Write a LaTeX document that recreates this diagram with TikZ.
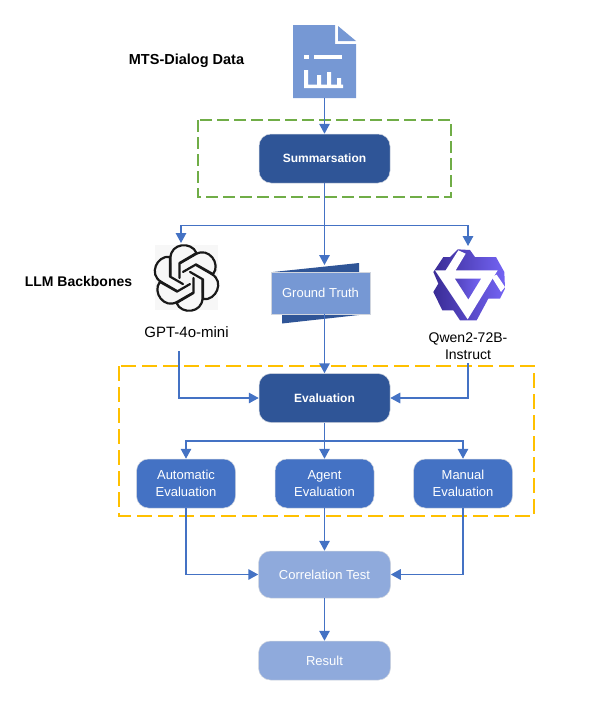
\documentclass[tikz,border=0pt]{standalone}
\usepackage{fontspec}
\setmainfont{Liberation Sans}
\usetikzlibrary{arrows.meta,positioning}
\definecolor{darkBlue}{HTML}{2F5597}
\definecolor{midBlue}{HTML}{4472C4}
\definecolor{softBlue}{HTML}{7698D4}
\definecolor{paleBlue}{HTML}{8FAADC}
\definecolor{edgeGray}{HTML}{D0D5DE}
\definecolor{groupGreen}{HTML}{70AD47}
\definecolor{groupOrange}{HTML}{FFC000}
\definecolor{qwenDark}{HTML}{3A2C96}
\definecolor{qwenLight}{HTML}{7464F4}
\newcommand{\labelFont}{\fontsize{13}{16.5}\selectfont}
\newcommand{\gptStrand}{%%
  \draw[strandStyle] (-16,2) -- (-16,20) .. controls (-16,35) and (5,37) .. (10,25)
    -- (-7,15) -- (-7,0);
}
\begin{document}
\begin{tikzpicture}[%%
  x=1pt,y=-1pt,%%
  arrowStyle/.style={-{Triangle[width=10.5pt,length=10pt]},midBlue,line width=1.5pt},%%
  lineStyle/.style={-,midBlue,line width=1.5pt},%%
  boxStyle/.style={rectangle,rounded corners=12pt,draw=edgeGray,line width=0.5pt,text=white,align=center,font=\labelFont},%%
  mainBoxStyle/.style={boxStyle,fill=darkBlue,minimum width=131pt,minimum height=49pt,font=\fontsize{12}{15}\selectfont\bfseries},%%
  evalBoxStyle/.style={boxStyle,fill=midBlue,minimum width=99pt,minimum height=49pt},%%
  lightBoxStyle/.style={boxStyle,fill=paleBlue,minimum width=132pt},%%
  groupStyle/.style={draw=#1,line width=2pt},%%
  titleStyle/.style={font=\fontsize{14}{17}\selectfont\bfseries,black},%%
  captionStyle/.style={font=\fontsize{14}{17}\selectfont,black,align=center},%%
  strandStyle/.style={draw=black!90,line width=2.2pt,line join=round,line cap=round}
]
\useasboundingbox (0,0) rectangle (614,723);
%%
\pgfmathsetmacro{\xLeft}{186}
\pgfmathsetmacro{\xMid}{324.5}
\pgfmathsetmacro{\xRight}{463}
\pgfmathsetmacro{\xQwen}{468}
%%
%% The dashed groups.
\draw[groupStyle=groupGreen,dash pattern=on 12pt off 5pt] (198,120) rectangle (451,197);
\draw[groupStyle=groupOrange,dash pattern=on 15pt off 6pt] (119,366) rectangle (534,516);
%%
%% The data document.
\node (dataDoc) [minimum width=63pt,minimum height=73pt,inner sep=0pt] at (\xMid,61.5) {};
\fill[softBlue] (293,25) -- (335,25) -- (335,44) -- (356,44) -- (356,98) -- (293,98) -- cycle;
\fill[softBlue] (338,26) -- (356,41) -- (338,41) -- cycle;
\fill[white] (304,55) rectangle (309,59);
\fill[white] (314,55) rectangle (342,59);
\fill[white] (304,70) -- (304,88) -- (343,88) -- (343,84.5) -- (341,84.5) -- (341,78) -- (337,78)
  -- (337,84.5) -- (331,84.5) -- (331,72) -- (327,72) -- (327,84.5) -- (321,84.5) -- (321,75) -- (317,75)
  -- (317,84.5) -- (308,84.5) -- (308,70) -- cycle;
\node (dataLabel) [titleStyle,font=\fontsize{14.5}{17}\selectfont\bfseries] at (186.5,61) {MTS-Dialog Data};
%%
%% The main steps.
\node (summary) [mainBoxStyle] at (\xMid,158.5) {Summarsation};
\node (evaluation) [mainBoxStyle] at (\xMid,398) {Evaluation};
\node (autoEval) [evalBoxStyle] at (\xLeft,483.5) {Automatic\\Evaluation};
\node (agentEval) [evalBoxStyle] at (\xMid,483.5) {Agent\\Evaluation};
\node (manualEval) [evalBoxStyle] at (\xRight,483.5) {Manual\\Evaluation};
\node (corrTest) [lightBoxStyle,minimum height=47pt] at (\xMid,574.5) {Correlation Test};
\node (result) [lightBoxStyle,minimum height=39pt] at (\xMid,660.5) {Result};
%%
%% The ground truth banner.
\fill[darkBlue] (273,272) -- (359,263) -- (359,272) -- cycle;
\fill[darkBlue] (282,314) -- (282,323.5) -- (368,314) -- cycle;
\node (groundTruth) [rectangle,fill=softBlue,draw=edgeGray,line width=0.5pt,text=white,
  minimum width=99pt,minimum height=42pt,font=\labelFont] at (320.5,293) {Ground Truth};
%%
%% The GPT logo.
\node (gptLogo) [fill=black!3,minimum width=63pt,minimum height=65pt,inner sep=0pt] at (186.5,277.5) {};
\begin{scope}[shift={(186.5,278)},y=1pt]
  \foreach \angle in {0,60,...,300} {
    \begin{scope}[rotate=\angle]
      \gptStrand
    \end{scope}
  }
\end{scope}
\node (gptLabel) [captionStyle,font=\fontsize{15}{17}\selectfont] at (186.5,332) {GPT-4o-mini};
%%
%% The Qwen logo.
\node (qwenLogo) [minimum width=74pt,minimum height=74pt,inner sep=0pt] at (\xQwen,285) {};
\begin{scope}[shift={(425,242)},x=0.3333pt,y=-0.3333pt]
  \shade[left color=qwenDark,right color=qwenLight]
    (98,22) -- (135,24) -- (150,45) -- (213,45) -- (238,90) -- (240,140) -- (225,170) -- (190,170)
    -- (155,235) -- (105,235) -- (85,205) -- (52,205) -- (25,150) -- (40,125) -- (25,90) -- (55,45)
    -- (75,45) -- cycle;
  %% The white triangle with its two tails.
  \fill[white] (30,85) -- (62,85) -- (100,25) -- (122,35) -- (92,85) -- (218,85) -- (128,232) -- cycle;
  \fill[white] (200,105) -- (215,98) -- (240,135) -- (228,150) -- cycle;
  \shade[left color=qwenDark!60!qwenLight,right color=qwenLight]
    (90,110) -- (168,110) -- (130,172) -- cycle;
\end{scope}
\node (qwenLabel) [captionStyle] at (\xQwen,346.5) {Qwen2-72B-\\Instruct};
\node (backboneLabel) [titleStyle] at (78.5,281) {LLM Backbones};
%%
\coordinate (splitTop) at (\xMid,225.5);
\coordinate (splitLow) at (\xMid,441);
\coordinate (gptOut) at (179,351);
\coordinate (gptTop) at (181,243);
\coordinate (qwenTop) at (\xQwen,246);
\coordinate (truthTop) at (\xMid,265);
%%
%% The connectors.
\draw[arrowStyle] (dataDoc) -- (summary);
\draw[lineStyle] (summary) -- (splitTop);
\draw[arrowStyle] (splitTop) -| (gptTop);
\draw[arrowStyle] (splitTop) -| (qwenTop);
\draw[arrowStyle] (splitTop) -- (truthTop);
\draw[arrowStyle] (groundTruth.south -| evaluation) -- (evaluation);
\draw[arrowStyle] (gptOut) |- (evaluation);
\draw[arrowStyle] (qwenLabel) |- (evaluation);
\draw[lineStyle] (evaluation) -- (splitLow);
\draw[arrowStyle] (splitLow) -| (autoEval);
\draw[arrowStyle] (splitLow) -- (agentEval);
\draw[arrowStyle] (splitLow) -| (manualEval);
\draw[arrowStyle] (autoEval) |- (corrTest);
\draw[arrowStyle] (agentEval) -- (corrTest);
\draw[arrowStyle] (manualEval) |- (corrTest);
\draw[arrowStyle] (corrTest) -- (result);
\end{tikzpicture}
\end{document}
